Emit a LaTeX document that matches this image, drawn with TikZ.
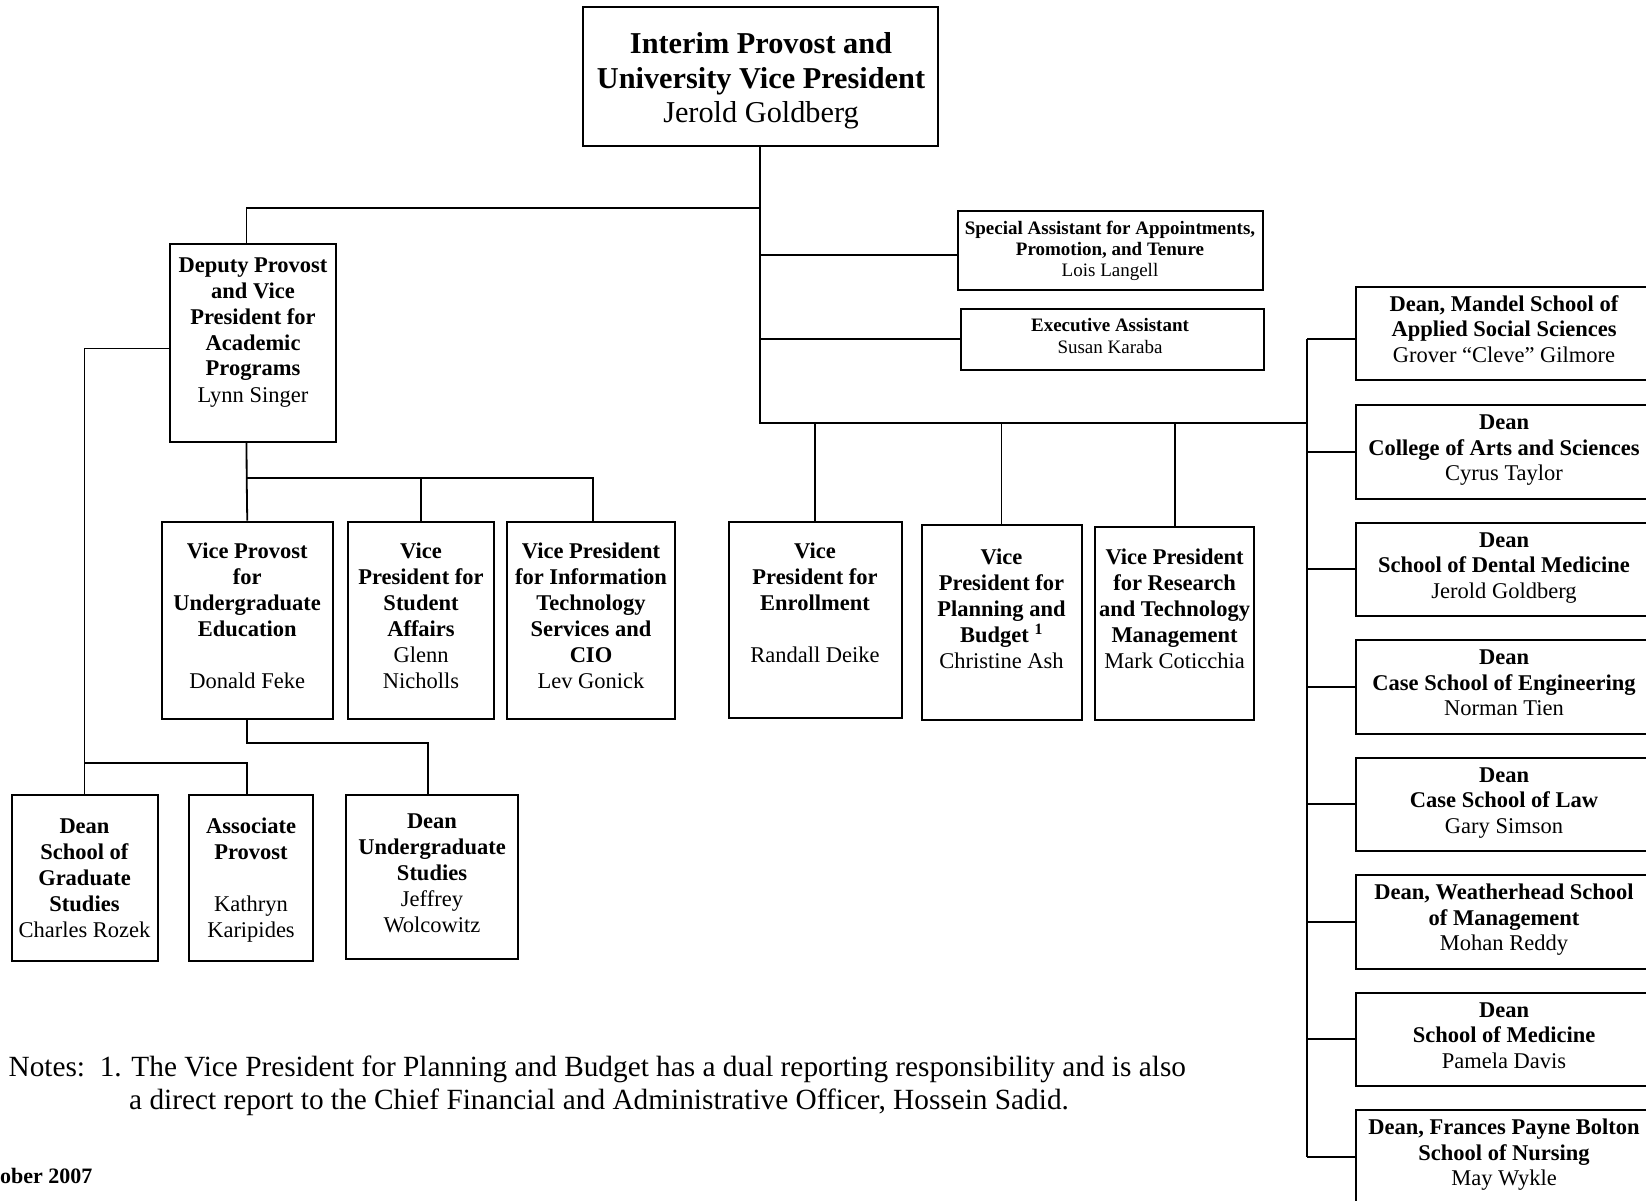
\documentclass[tikz,border=0pt]{standalone}
\usepackage{fontspec}
\setmainfont{Liberation Serif}
\newcommand\fA{\fontsize{22.5}{26}\selectfont}
\newcommand\fT{\fontsize{30.3}{34.5}\selectfont}
\newcommand\fS{\fontsize{19}{21.5}\selectfont}
\newcommand\fD{\fontsize{22.5}{25.5}\selectfont}
\newcommand\fN{\fontsize{29.3}{33.5}\selectfont}
\newcommand\obox[5]{\node[box, minimum width={#4pt-#2pt}, minimum height={#5pt-#3pt}] (#1) at ({(#2+#4)/2},{(#3+#5)/2}) {};}
\newcommand\otext[5]{\node[txt, font=#4] (#1) at (#2,#3) {\begin{tabular}[t]{@{}c@{}}#5\end{tabular}};}
\begin{document}
\begin{tikzpicture}[x=1pt,y=-1pt,
  box/.style={draw, line width=2pt, inner sep=0pt},
  conn/.style={line width=1.8pt},
  txt/.style={inner sep=0pt, anchor=base}]
\useasboundingbox (0,0) rectangle (1646,1201);

% ---- boxes ----
\obox{top}{582.5}{7.3}{937.5}{146.5}
\obox{dep}{170}{243.5}{336}{441.5}
\obox{spa}{958.4}{211}{1262.8}{289.7}
\obox{exa}{960.5}{308.6}{1263.8}{369.5}
\obox{vpu}{161.7}{521.7}{332.8}{719}
\obox{vps}{347.5}{521.7}{494.4}{719}
\obox{vpit}{507}{521.7}{675}{719}
\obox{enr}{728.5}{521.7}{901.7}{717.5}
\obox{plan}{921.6}{524.9}{1081.5}{719.5}
\obox{res}{1094.8}{527}{1254.4}{720}
\obox{dgs}{11.5}{795}{157.5}{961}
\obox{ap}{189}{795}{312.8}{961}
\obox{dus}{346.4}{794.5}{517.5}{958.5}
\obox{d1}{1355.5}{286.5}{1653}{380}
\obox{d2}{1355.5}{405}{1653}{498.5}
\obox{d3}{1355.5}{522.5}{1653}{616}
\obox{d4}{1355.5}{640}{1653}{733.5}
\obox{d5}{1355.5}{757.5}{1653}{851}
\obox{d6}{1355.5}{875}{1653}{968.5}
\obox{d7}{1355.5}{992.5}{1653}{1086}
\obox{d8}{1355.5}{1110}{1653}{1203.5}

% ---- texts ----
\otext{top-t}{761}{54}{\fT}{\textbf{Interim Provost and}\\ \textbf{University Vice President}\\ Jerold Goldberg}
\otext{dep-t}{253}{272}{\fA}{\textbf{Deputy Provost}\\ \textbf{and Vice}\\ \textbf{President for}\\ \textbf{Academic}\\ \textbf{Programs}\\ Lynn Singer}
\otext{spa-t}{1110}{234}{\fS}{\textbf{Special Assistant for Appointments,}\\ \textbf{Promotion, and Tenure}\\ Lois Langell}
\otext{exa-t}{1110}{331.7}{\fS}{\textbf{Executive Assistant}\\ Susan Karaba}
\otext{vpu-t}{247.2}{558}{\fA}{\textbf{Vice Provost}\\ \textbf{for}\\ \textbf{Undergraduate}\\ \textbf{Education}\\ \\ Donald Feke}
\otext{vps-t}{421}{558}{\fA}{\textbf{Vice}\\ \textbf{President for}\\ \textbf{Student}\\ \textbf{Affairs}\\ Glenn\\ Nicholls}
\otext{vpit-t}{591}{558}{\fA}{\textbf{Vice President}\\ \textbf{for Information}\\ \textbf{Technology}\\ \textbf{Services and}\\ \textbf{CIO}\\ Lev Gonick}
\otext{enr-t}{815}{558}{\fA}{\textbf{Vice}\\ \textbf{President for}\\ \textbf{Enrollment}\\ \\ Randall Deike}
\otext{plan-t}{1001.5}{564}{\fA}{\textbf{Vice}\\ \textbf{President for}\\ \textbf{Planning and}\\ \textbf{Budget \textsuperscript{1}}\\ Christine Ash}
\otext{res-t}{1174.6}{564}{\fA}{\textbf{Vice President}\\ \textbf{for Research}\\ \textbf{and Technology}\\ \textbf{Management}\\ Mark Coticchia}
\otext{dgs-t}{84.5}{833}{\fA}{\textbf{Dean}\\ \textbf{School of}\\ \textbf{Graduate}\\ \textbf{Studies}\\ Charles Rozek}
\otext{ap-t}{251}{833}{\fA}{\textbf{Associate}\\ \textbf{Provost}\\ \\ Kathryn\\ Karipides}
\otext{dus-t}{432}{828}{\fA}{\textbf{Dean}\\ \textbf{Undergraduate}\\ \textbf{Studies}\\ Jeffrey\\ Wolcowitz}
\otext{d1-t}{1504}{311}{\fD}{\textbf{Dean, Mandel School of}\\ \textbf{Applied Social Sciences}\\ Grover “Cleve” Gilmore}
\otext{d2-t}{1504}{429.5}{\fD}{\textbf{Dean}\\ \textbf{College of Arts and Sciences}\\ Cyrus Taylor}
\otext{d3-t}{1504}{547}{\fD}{\textbf{Dean}\\ \textbf{School of Dental Medicine}\\ Jerold Goldberg}
\otext{d4-t}{1504}{664.5}{\fD}{\textbf{Dean}\\ \textbf{Case School of Engineering}\\ Norman Tien}
\otext{d5-t}{1504}{782}{\fD}{\textbf{Dean}\\ \textbf{Case School of Law}\\ Gary Simson}
\otext{d6-t}{1504}{899.5}{\fD}{\textbf{Dean, Weatherhead School}\\ \textbf{of Management}\\ Mohan Reddy}
\otext{d7-t}{1504}{1017}{\fD}{\textbf{Dean}\\ \textbf{School of Medicine}\\ Pamela Davis}
\otext{d8-t}{1504}{1134.5}{\fD}{\textbf{Dean, Frances Payne Bolton}\\ \textbf{School of Nursing}\\ May Wykle}

\node[txt, anchor=base west, font=\fN] (note1) at (8.4,1076) {Notes:\ \ 1. The Vice President for Planning and Budget has a dual reporting responsibility and is also};
\node[txt, anchor=base west, font=\fN] (note2) at (129,1109.5) {a direct report to the Chief Financial and Administrative Officer, Hossein Sadid.};
\node[txt, anchor=base west, font=\fontsize{22}{26}\selectfont\bfseries] (date) at (0,1183) {ober 2007};

% ---- connectors ----
\coordinate (hub) at (760,423);
\coordinate (sp) at (1307,423);
\coordinate (jd) at (760,207.8);
\coordinate (jv) at (246.7,478);
\coordinate (jl) at (84,763);

\draw[conn] (top.south) -- (hub) -- (sp);
\draw[conn] (jd) -| ([xshift=-6.5pt]dep.north);
\draw[conn] (hub |- spa.west) ++(0,4.7) -- ([yshift=-4.7pt]spa.west);
\draw[conn] (hub |- exa.west) -- (exa.west);
\draw[conn] (enr.north |- hub) -- (enr.north);
\draw[conn] (plan.north |- hub) -- (plan.north);
\draw[conn] (res.north |- hub) -- (res.north);

\draw[conn] ([xshift=-6.5pt]dep.south) -- (jv) -- (vpu.north);
\draw[conn] (jv) -| ([xshift=2pt]vpit.north);
\draw[conn] (vps.north |- jv) -- (vps.north);
\draw[conn] (vpu.south) -- ++(0,23) -| ([xshift=-3.7pt]dus.north);

\draw[conn] ([yshift=-6pt]dep.west) -| (dgs.north);
\draw[conn] (jl) -| ([xshift=-4.3pt]ap.north);

\draw[conn] ([yshift=-5.75pt]d1.west -| sp) -- (d8.west -| sp);
\draw[conn] ([yshift=-5.75pt]d1.west -| sp) -- ([yshift=-5.75pt]d1.west);
\foreach \n in {d2,d3,d4,d5,d6,d7,d8}{
  \draw[conn] (\n.west -| sp) -- (\n.west);
}
\end{tikzpicture}
\end{document}
